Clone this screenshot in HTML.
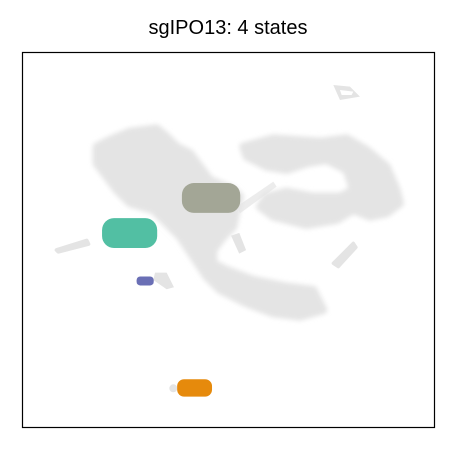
<!DOCTYPE html>
<html><head><meta charset="utf-8"><style>
body{margin:0;background:#fff;width:450px;height:450px;overflow:hidden}
svg{display:block}
text{font-family:"Liberation Sans",Arial,sans-serif}
</style></head><body>
<svg width="450" height="450">
<text x="228" y="34" text-anchor="middle" font-size="20" fill="#000">sgIPO13: 4 states</text>
<defs><filter id="soft" x="-20%" y="-20%" width="140%" height="140%"><feGaussianBlur stdDeviation="7"/></filter></defs>
<g id="bg" transform="translate(20,50) scale(0.3333)" fill="#e4e4e4">
<path filter="url(#soft)" stroke="#e4e4e4" stroke-width="24" stroke-linejoin="round" d="M230,290 L270,270 L330,245 L410,235 L440,260 L470,290 L510,310 L540,350 L570,390 L640,420 L660,440 L650,480 L640,530 L610,560 L580,600 L580,640 L620,660 L700,690 L800,710 L880,720 L910,780 L840,800 L760,790 L680,760 L600,720 L560,680 L520,620 L480,560 L440,520 L400,480 L330,460 L290,420 L260,380 L230,340 Z"/>
<path filter="url(#soft)" stroke="#e4e4e4" stroke-width="24" stroke-linejoin="round" d="M670,290 L760,265 L900,275 L980,265 L1040,300 L1100,350 L1130,420 L1140,460 L1100,490 L1050,500 L1000,480 L950,510 L860,525 L760,500 L720,470 L740,440 L800,425 L880,440 L960,440 L1000,420 L980,360 L920,330 L860,340 L800,360 L740,350 L680,320 Z"/>
<path d="M650,470 L760,395 L770,410 L660,490 Z" opacity="0.7"/>
<path d="M940,105 L990,110 L1020,140 L960,150 Z M960,120 L1000,125 L995,135 L965,135 Z" fill-rule="evenodd"/>
<path d="M110,600 L200,572 L205,582 L115,605 Z" stroke="#e4e4e4" stroke-width="12" stroke-linejoin="round"/>
<path d="M405,668 L440,668 L462,712 L440,718 L400,690 Z"/>
<path d="M940,640 L1000,580 L1008,592 L955,650 Z" stroke="#e4e4e4" stroke-width="10" stroke-linejoin="round"/>
<path d="M640,560 L655,555 L672,598 L660,604 Z" stroke="#e4e4e4" stroke-width="10"/>
<circle cx="460" cy="1015" r="12"/>
</g>
<g id="clusters"></g>
<rect x="22.5" y="52.5" width="412" height="375" fill="none" stroke="#000" stroke-width="1.2"/>
<script>
const states = ["state-1","state-2","state-3","state-4"];
const stateColors = ["#a3a696","#52bfa3","#6a6fb5","#e68a0c"];
const centerX = [4.95, 2.38, 2.87, 4.43];
const centerY = [4.81, 3.80, 2.42, -0.66];
const spreadX = [0.92, 0.87, 0.27, 0.55];
const spreadY = [0.43, 0.43, 0.13, 0.25];
// axis functions
const xMin=-1, xMax=12, yMin=-1.8, yMax=9;
const px0=22.5, px1=434.5, py0=427.5, py1=52.5;
const sx = v => px0 + (v-xMin)/(xMax-xMin)*(px1-px0);
const sy = v => py0 - (v-yMin)/(yMax-yMin)*(py0-py1);
const g = document.getElementById('clusters');
const NS='http://www.w3.org/2000/svg';
states.forEach((s,i)=>{
  const e=document.createElementNS(NS,'rect');
  const rx = Math.abs(sx(centerX[i]+spreadX[i])-sx(centerX[i]));
  const ry = Math.abs(sy(centerY[i]+spreadY[i])-sy(centerY[i]));
  e.setAttribute('x',sx(centerX[i])-rx);
  e.setAttribute('y',sy(centerY[i])-ry);
  e.setAttribute('width',2*rx);
  e.setAttribute('height',2*ry);
  e.setAttribute('rx',Math.min(rx,ry)*0.8);
  e.setAttribute('fill',stateColors[i]);
  
  
  g.appendChild(e);
});
</script>
</svg>
</body></html>
